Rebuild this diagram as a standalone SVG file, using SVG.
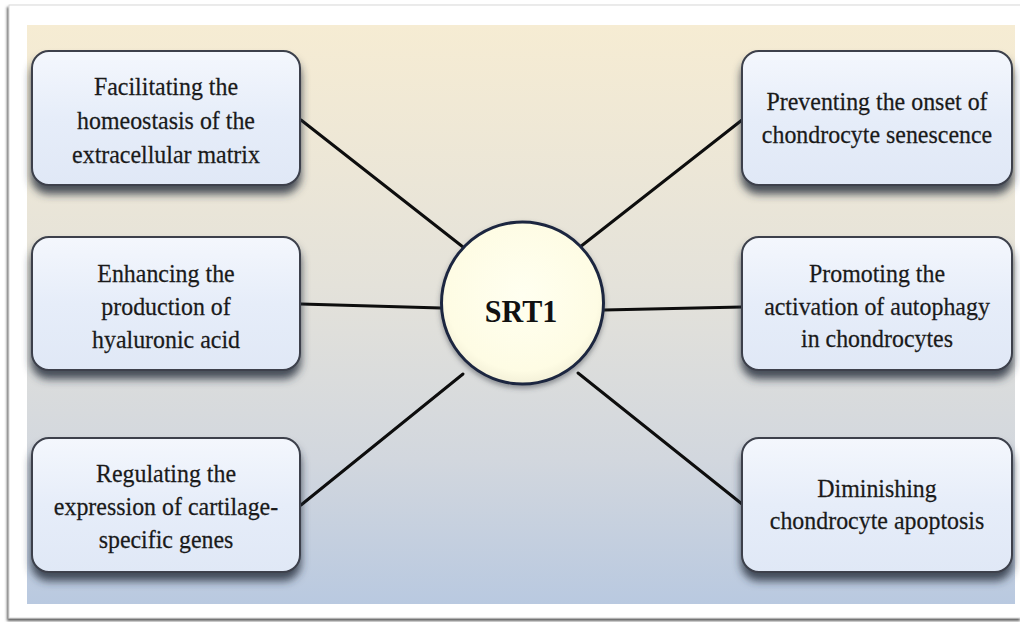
<svg xmlns="http://www.w3.org/2000/svg" width="1020" height="622" viewBox="0 0 1020 622">
  <defs>
    <linearGradient id="panelGrad" x1="0" y1="0" x2="0" y2="1">
      <stop offset="0" stop-color="#f6ecd3"/>
      <stop offset="0.45" stop-color="#e4e2da"/>
      <stop offset="0.75" stop-color="#d2d7de"/>
      <stop offset="1" stop-color="#b9c9e0"/>
    </linearGradient>
    <linearGradient id="boxGrad" x1="0" y1="0" x2="0" y2="1">
      <stop offset="0" stop-color="#f4f7fd"/>
      <stop offset="0.5" stop-color="#e6edf9"/>
      <stop offset="1" stop-color="#e0e8f6"/>
    </linearGradient>
    <radialGradient id="circGrad" cx="0.5" cy="0.45" r="0.55">
      <stop offset="0" stop-color="#fffff0"/>
      <stop offset="0.85" stop-color="#fefce4"/>
      <stop offset="1" stop-color="#f3f0d8"/>
    </radialGradient>
    <filter id="boxShadow" x="-10%" y="-10%" width="120%" height="140%">
      <feDropShadow dx="0" dy="8" stdDeviation="4.5" flood-color="#2a3040" flood-opacity="0.85"/>
    </filter>
    <filter id="hubShadow" x="-10%" y="-10%" width="120%" height="125%">
      <feDropShadow dx="0" dy="3" stdDeviation="2.5" flood-color="#3a3f4c" flood-opacity="0.5"/>
    </filter>
    <filter id="frameShadow" x="-2%" y="-2%" width="104%" height="104%">
      <feDropShadow dx="-1.5" dy="2.5" stdDeviation="1.2" flood-color="#444" flood-opacity="0.85"/>
    </filter>
  </defs>
  <style>
    .box { fill: url(#boxGrad); stroke: #3c414c; stroke-width: 2; filter: url(#boxShadow); }
    .label { font-family: "Liberation Serif", "Times New Roman", serif; font-size: 26px; fill: #1a1a1a; stroke: #1a1a1a; stroke-width: 0.25; text-anchor: middle; }
    .link { stroke: #0d0d0d; stroke-width: 3; fill: none; stroke-linecap: round; }
    .hub { fill: url(#circGrad); stroke: #1c2740; stroke-width: 3; filter: url(#hubShadow); }
    .hubText { font-family: "Liberation Serif", "Times New Roman", serif; font-size: 32px; font-weight: bold; fill: #111; text-anchor: middle; }
  </style>

  <!-- page frame -->
  <rect width="1020" height="622" fill="#ffffff"/>
  <rect x="9" y="5" width="1012" height="613" fill="#ffffff" stroke="#d8d8d8" stroke-width="1" filter="url(#frameShadow)"/>

  <!-- background panel -->
  <rect x="27" y="25" width="988" height="579" fill="url(#panelGrad)"/>

  <!-- connectors -->
  <g id="connectors">
    <line class="link" x1="301" y1="120" x2="463" y2="247"/>
    <line class="link" x1="301" y1="304" x2="441" y2="308"/>
    <line class="link" x1="301" y1="505" x2="463" y2="374"/>
    <line class="link" x1="742" y1="120" x2="580" y2="247"/>
    <line class="link" x1="742" y1="307" x2="604" y2="310"/>
    <line class="link" x1="742" y1="504" x2="578" y2="373"/>
  </g>

  <!-- left column (labels use a slightly condensed serif) -->
  <g id="node-ecm">
    <rect class="box" x="32" y="51" width="268" height="134" rx="17"/>
    <g transform="translate(166 0) scale(0.92 1)">
      <text class="label" x="0" y="95">Facilitating the</text>
      <text class="label" x="0" y="129">homeostasis of the</text>
      <text class="label" x="0" y="163">extracellular matrix</text>
    </g>
  </g>
  <g id="node-hyaluronic">
    <rect class="box" x="32" y="237" width="268" height="133" rx="17"/>
    <g transform="translate(166 0) scale(0.92 1)">
      <text class="label" x="0" y="282">Enhancing the</text>
      <text class="label" x="0" y="315">production of</text>
      <text class="label" x="0" y="348">hyaluronic acid</text>
    </g>
  </g>
  <g id="node-cartilage">
    <rect class="box" x="32" y="438" width="268" height="134" rx="17"/>
    <g transform="translate(166 0) scale(0.92 1)">
      <text class="label" x="0" y="482">Regulating the</text>
      <text class="label" x="0" y="515">expression of cartilage-</text>
      <text class="label" x="0" y="548">specific genes</text>
    </g>
  </g>

  <!-- right column -->
  <g id="node-senescence">
    <rect class="box" x="742" y="51" width="270" height="134" rx="17"/>
    <g transform="translate(877 0) scale(0.92 1)">
      <text class="label" x="0" y="110">Preventing the onset of</text>
      <text class="label" x="0" y="143">chondrocyte senescence</text>
    </g>
  </g>
  <g id="node-autophagy">
    <rect class="box" x="742" y="237" width="270" height="133" rx="17"/>
    <g transform="translate(877 0) scale(0.92 1)">
      <text class="label" x="0" y="282">Promoting the</text>
      <text class="label" x="0" y="315">activation of autophagy</text>
      <text class="label" x="0" y="347">in chondrocytes</text>
    </g>
  </g>
  <g id="node-apoptosis">
    <rect class="box" x="742" y="438" width="270" height="134" rx="17"/>
    <g transform="translate(877 0) scale(0.92 1)">
      <text class="label" x="0" y="497">Diminishing</text>
      <text class="label" x="0" y="529">chondrocyte apoptosis</text>
    </g>
  </g>

  <!-- central hub -->
  <g id="node-srt1">
    <circle class="hub" cx="522.5" cy="303" r="81"/>
    <g transform="translate(521 0) scale(0.94 1)">
      <text class="hubText" x="0" y="322">SRT1</text>
    </g>
  </g>
</svg>
